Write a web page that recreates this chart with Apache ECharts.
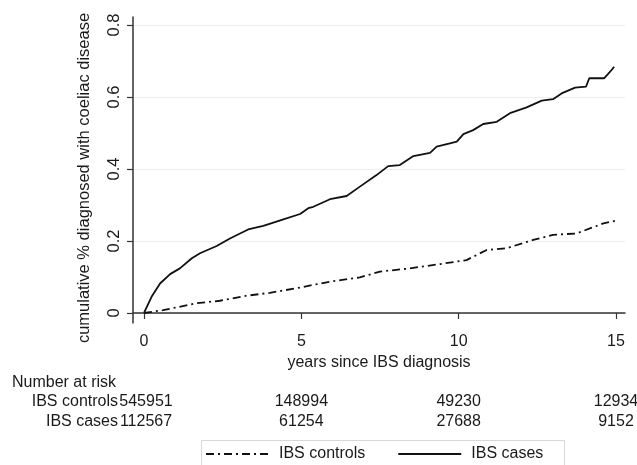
<!DOCTYPE html>
<html>
<head>
<meta charset="utf-8">
<script src="https://cdn.jsdelivr.net/npm/echarts@6/dist/echarts.min.js"></script>
<style>
html,body{margin:0;padding:0;background:#fff;}
#c{width:637px;height:465px;}
</style>
</head>
<body>
<div id="c"></div>
<script>
// ---- data ----
const casesX = [0,0.24,0.51,0.83,1.14,1.52,1.78,2.31,2.73,3.31,3.79,4.43,4.96,5.22,5.38,5.91,6.44,6.86,7.39,7.76,8.13,8.56,9.09,9.30,9.72,9.94,10.15,10.46,10.78,11.21,11.63,12.16,12.64,13.00,13.27,13.70,14.05,14.15,14.62,14.75,14.86,14.94];
const casesY = [0,0.045,0.082,0.108,0.124,0.152,0.166,0.186,0.207,0.232,0.242,0.260,0.275,0.291,0.295,0.316,0.325,0.351,0.383,0.408,0.411,0.436,0.445,0.462,0.471,0.476,0.497,0.508,0.525,0.531,0.555,0.571,0.590,0.594,0.610,0.626,0.629,0.652,0.652,0.664,0.675,0.684];
const controlsX = [0,0.61,1.67,2.41,3.26,4.0,4.85,5.91,6.86,7.5,8.45,9.41,10.25,10.57,10.89,11.53,12.37,13.0,13.75,14.17,14.6,14.97];
const controlsY = [0,0.008,0.027,0.034,0.048,0.056,0.069,0.087,0.099,0.115,0.124,0.136,0.147,0.161,0.175,0.180,0.203,0.217,0.221,0.235,0.249,0.256];
const xTicks = [0,5,10,15];
const yTicks = [0,0.2,0.4,0.6,0.8];
const riskTimes = [0,5,10,15];
const riskControls = [545951,148994,49230,12934];
const riskCases = [112567,61254,27688,9152];
const seriesNames = ['IBS controls','IBS cases'];

const FONT = '"Liberation Sans", Arial, sans-serif';
const TXT = '#1a1a1a';

const chart = echarts.init(document.getElementById('c'), null, {renderer:'canvas'});
const zip = (xs, ys) => xs.map((x,i)=>[x, ys[i]]);

chart.setOption({
  animation:false,
  backgroundColor:'#fff',
  grid:{left:133, right:12, top:17, bottom:142, containLabel:false},
  xAxis:{
    type:'value', min:-0.35, max:15.286,
    name:'years since IBS diagnosis', nameLocation:'middle', nameGap:29,
    nameTextStyle:{fontFamily:FONT, fontSize:16, color:TXT},
    axisLine:{show:true, lineStyle:{color:'#333', width:1.5}},
    axisTick:{show:true, length:6, inside:false, customValues:xTicks, lineStyle:{color:'#333', width:1.2}},
    axisLabel:{customValues:xTicks, fontFamily:FONT, fontSize:16, color:TXT, margin:11},
    splitLine:{show:false}
  },
  yAxis:{
    type:'value', min:-0.0278, max:0.8222,
    axisLine:{show:true, onZero:false, lineStyle:{color:'#333', width:1.5}},
    axisTick:{show:true, length:6, customValues:yTicks, lineStyle:{color:'#333', width:1.2}},
    axisLabel:{customValues:yTicks, rotate:90, fontFamily:FONT, fontSize:16.5, color:TXT, margin:10,
      formatter:v=>String(+v.toFixed(1))},
    splitLine:{show:false}
  },
  legend:{
    left:200, top:441, itemWidth:63, itemHeight:10, itemGap:32,
    data:seriesNames,
    itemStyle:{opacity:0},
    textStyle:{fontFamily:FONT, fontSize:16, color:TXT, padding:[0,0,0,5]}
  },
  series:[
    {
      name:seriesNames[0], type:'line', data:zip(controlsX, controlsY), symbol:'none', smooth:false,
      lineStyle:{color:'#111', width:1.8, type:[8,4,2,4]},
      itemStyle:{color:'#111'},
      markLine:{silent:true, symbol:'none', label:{show:false},
        lineStyle:{color:'#eeeeee', width:1, type:'solid'},
        data:yTicks.map(v=>({yAxis:v})), z:0}
    },
    {
      name:seriesNames[1], type:'line', data:zip(casesX, casesY), symbol:'none', smooth:false,
      lineStyle:{color:'#111', width:1.8, type:'solid'},
      itemStyle:{color:'#111'}
    }
  ]
});

// number at risk table, positioned via the x scale
const g = [
  {type:'rect', left:199, top:438, shape:{width:363, height:40}, style:{fill:'none', stroke:'#d8d8d8', lineWidth:1}, z:-1},
  {type:'text', x:84, y:178, rotation:Math.PI/2,
    style:{text:'cumulative % diagnosed with coeliac disease', fontFamily:FONT, fontSize:16.5, fill:TXT, textAlign:'center', textVerticalAlign:'middle'}},
  {type:'text', x:12, y:383, style:{text:'Number at risk', fontFamily:FONT, fontSize:16, fill:TXT, textAlign:'left', textVerticalAlign:'middle'}}
];
const rows = [[seriesNames[0], riskControls, 402],[seriesNames[1], riskCases, 422]];
rows.forEach(([lab, vals, y])=>{
  g.push({type:'text', x:118, y:y, style:{text:lab, fontFamily:FONT, fontSize:16, fill:TXT, textAlign:'right', textVerticalAlign:'middle'}});
  vals.forEach((v,i)=>{
    const px = chart.convertToPixel({xAxisIndex:0}, riskTimes[i]);
    g.push({type:'text', x:px + (i===0?2:0), y:y, style:{text:String(v), fontFamily:FONT, fontSize:16, fill:TXT, textAlign:'center', textVerticalAlign:'middle'}});
  });
});
chart.setOption({graphic:g});
</script>
</body>
</html>
